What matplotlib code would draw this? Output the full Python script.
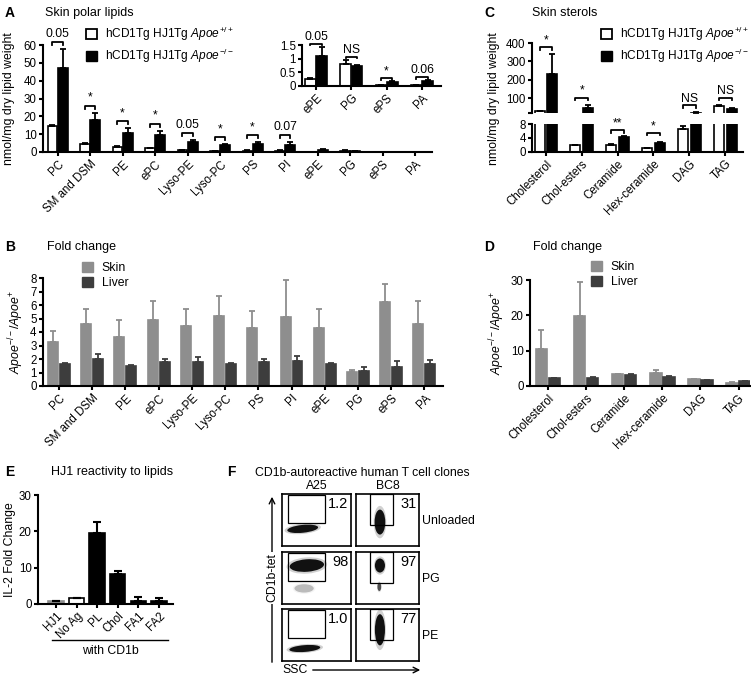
import matplotlib
matplotlib.use('Agg')
import matplotlib.pyplot as plt
from matplotlib.patches import Patch, Ellipse, Rectangle, FancyArrowPatch
import numpy as np

plt.rcParams['font.family'] = ['Liberation Sans', 'DejaVu Sans']
plt.rcParams['mathtext.fontset'] = 'custom'
plt.rcParams['mathtext.rm'] = 'Liberation Sans'
plt.rcParams['mathtext.it'] = 'Liberation Sans:italic'
plt.rcParams['mathtext.bf'] = 'Liberation Sans:bold'
plt.rcParams['font.size'] = 8

# ---------------- DATA ----------------
polar_lipids = ['PC', 'SM and DSM', 'PE', 'ePC', 'Lyso-PE', 'Lyso-PC', 'PS', 'PI', 'ePE', 'PG', 'ePS', 'PA']
polar_wt = [14.5, 4.3, 3.0, 2.0, 1.0, 0.5, 0.8, 0.8, 0.25, 0.8, 0.03, 0.03]
polar_wt_err = [0.5, 0.5, 0.4, 0.4, 0.2, 0.1, 0.1, 0.2, 0.03, 0.15, 0.01, 0.01]
polar_ko = [47, 18, 10.5, 9.5, 5.5, 4.0, 4.5, 4.0, 1.1, 0.75, 0.15, 0.17]
polar_ko_err = [11, 4, 3, 2.5, 1.5, 0.5, 1.0, 1.5, 0.33, 0.03, 0.02, 0.04]
polar_sig = ['0.05', '*', '*', '*', '0.05', '*', '*', '0.07', None, None, None, None]

inset_lipids = ['ePE', 'PG', 'ePS', 'PA']
inset_sig = ['0.05', 'NS', '*', '0.06']

sterols = ['Cholesterol', 'Chol-esters', 'Ceramide', 'Hex-ceramide', 'DAG', 'TAG']
sterol_wt = [30, 1.9, 1.9, 1.0, 6.7, 60]
sterol_wt_err = [3, 0.2, 0.3, 0.1, 0.8, 4]
sterol_ko = [230, 45, 4.3, 2.5, 22, 42]
sterol_ko_err = [110, 20, 0.2, 0.2, 1, 3]
sterol_sig = ['*', '*', '**', '*', 'NS', 'NS']

fold_skin = [3.28, 4.58, 3.65, 4.88, 4.46, 5.17, 4.33, 5.11, 4.33, 1.04, 6.22, 4.57]
fold_skin_err = [0.81, 1.16, 1.23, 1.42, 1.28, 1.5, 1.23, 2.77, 1.35, 0.11, 1.36, 1.7]
fold_liver = [1.6, 2.0, 1.5, 1.75, 1.8, 1.63, 1.78, 1.85, 1.6, 1.11, 1.41, 1.66]
fold_liver_err = [0.08, 0.34, 0.05, 0.27, 0.37, 0.05, 0.25, 0.35, 0.1, 0.3, 0.44, 0.29]

sterol_fold_skin = [10.4, 19.8, 3.3, 3.8, 1.9, 0.9]
sterol_fold_skin_err = [5.5, 9.5, 0.2, 0.7, 0.1, 0.1]
sterol_fold_liver = [2.2, 2.4, 3.2, 2.6, 1.7, 1.3]
sterol_fold_liver_err = [0.1, 0.1, 0.1, 0.1, 0.1, 0.1]

hj1_conditions = ['HJ1', 'No Ag', 'PL', 'Chol', 'FA1', 'FA2']
il2_fold = [0.7, 1.6, 19.5, 8.2, 0.9, 0.9]
il2_err = [0, 0, 3.2, 1.0, 0.9, 0.7]

flow_clones = ['A25', 'BC8']
flow_conditions = ['Unloaded', 'PG', 'PE']
flow_pct = [['1.2', '31'], ['98', '97'], ['1.0', '77']]
# cloud shapes per condition/clone: (x, y, width, height, angle, density) in SSC / CD1b-tet units (0..1)
flow_clouds = [
    [[(0.30, 0.33, 0.45, 0.15, 8, 1.0)], [(0.38, 0.46, 0.17, 0.48, 0, 1.0)]],
    [[(0.36, 0.74, 0.50, 0.24, 6, 1.0), (0.32, 0.30, 0.28, 0.16, 0, 0.25)],
     [(0.38, 0.74, 0.16, 0.27, 0, 1.0), (0.37, 0.33, 0.06, 0.16, 0, 0.7)]],
    [[(0.33, 0.24, 0.45, 0.13, 6, 1.0)], [(0.38, 0.60, 0.16, 0.60, 0, 1.0)]],
]
gate_a25 = (0.09, 0.44, 0.53, 0.54)
gate_bc8 = (0.22, 0.40, 0.36, 0.60)

# ---------------- FIGURE ----------------
W, H = 751, 688
fig = plt.figure(figsize=(W / 100, H / 100), dpi=100)

def rect(l, t, r, b):
    return [l / W, 1 - b / H, (r - l) / W, (b - t) / H]

def fp(x, y):
    return (x / W, 1 - y / H)

SW = 1.5
GREY = '#8e8e8e'
DARK = '#3d3d3d'
TITLE_FS = 9
LAB_FS = 8.8

def style(ax, bottom=True):
    for s in ['top', 'right']:
        ax.spines[s].set_visible(False)
    ax.spines['left'].set_linewidth(SW)
    ax.spines['bottom'].set_linewidth(SW)
    if not bottom:
        ax.spines['bottom'].set_visible(False)
    ax.tick_params(width=SW, length=3, labelsize=8.3, pad=1.5)

def bars(ax, x, vals, errs, face, edge, width, ecol):
    ax.bar(x, vals, width, color=face, edgecolor=edge, linewidth=1.2, zorder=2)
    ax.errorbar(x, vals, yerr=[np.zeros(len(vals)), errs], fmt='none', ecolor=ecol,
                elinewidth=1.3, capsize=2.5, capthick=1.3, zorder=3)

def bracket(ax, x1, x2, y, h, text, tpad):
    ax.plot([x1, x1, x2, x2], [y - h, y, y, y - h], color='black', lw=1.3, clip_on=False, zorder=4)
    ax.text((x1 + x2) / 2, y + tpad, text, ha='center', va='bottom', fontsize=8.8, clip_on=False)

def xlabels(ax, labels, size=8.3):
    ax.set_xticks(np.arange(len(labels)))
    ax.set_xticklabels(labels, rotation=45, ha='right', rotation_mode='anchor', fontsize=size)

wt_label = r'hCD1Tg HJ1Tg $\mathit{Apoe}^{+/+}$'
ko_label = r'hCD1Tg HJ1Tg $\mathit{Apoe}^{-/-}$'
geno_handles = [Patch(facecolor='white', edgecolor='black', linewidth=1.3),
                Patch(facecolor='black', edgecolor='black')]
tissue_handles = [Patch(facecolor=GREY, edgecolor=GREY), Patch(facecolor=DARK, edgecolor=DARK)]
leg_kw = dict(loc='upper left', frameon=False, handlelength=0.9, handleheight=0.9,
              handletextpad=0.7, borderaxespad=0, borderpad=0)

# ---------------- Panel A ----------------
axA = fig.add_axes(rect(43, 45, 432, 152))
x = np.arange(len(polar_lipids))
off, bw = 0.16, 0.30
bars(axA, x - off, polar_wt, polar_wt_err, 'white', 'black', bw, 'black')
bars(axA, x + off, polar_ko, polar_ko_err, 'black', 'black', bw, 'black')
style(axA)
axA.set_ylim(0, 60)
axA.set_yticks(range(0, 61, 10))
axA.set_xlim(-0.45, 11.52)
xlabels(axA, polar_lipids)
axA.set_ylabel('nmol/mg dry lipid weight', fontsize=LAB_FS)
axA.yaxis.set_label_coords(-0.071, 0.5)
for i, s in enumerate(polar_sig):
    if s:
        top = polar_ko[i] + polar_ko_err[i]
        bracket(axA, i - off, i + off, top + 3.8, 1.6, s, 1.2)
fig.text(*fp(5, 13), 'A', fontsize=10, fontweight='bold', va='center')
fig.text(*fp(45, 13), 'Skin polar lipids', fontsize=TITLE_FS, va='center')
fig.legend(geno_handles, [wt_label, ko_label], bbox_to_anchor=fp(86, 25), fontsize=8.6,
           labelspacing=0.3, **leg_kw)

# inset
axI = fig.add_axes(rect(302, 45, 441, 86))
xi = np.arange(len(inset_lipids))
idx = [polar_lipids.index(n) for n in inset_lipids]
bars(axI, xi - off, [polar_wt[i] for i in idx], [polar_wt_err[i] for i in idx], 'white', 'black', bw, 'black')
bars(axI, xi + off, [polar_ko[i] for i in idx], [polar_ko_err[i] for i in idx], 'black', 'black', bw, 'black')
style(axI)
axI.set_ylim(0, 1.5)
axI.set_yticks([0, 0.5, 1, 1.5])
axI.set_yticklabels(['0', '0.5', '1', '1.5'])
axI.set_xlim(-0.4, 3.54)
xlabels(axI, inset_lipids)
for j, i in enumerate(idx):
    top = max(polar_wt[i] + polar_wt_err[i], polar_ko[i] + polar_ko_err[i])
    bracket(axI, j - off, j + off, max(top + 0.12, 0.22), 0.06, inset_sig[j], 0.04)

# ---------------- Panel C ----------------
xc = np.arange(len(sterols))
offc, bwc = 0.18, 0.28
axCu = fig.add_axes(rect(532, 43, 743, 113))
axCl = fig.add_axes(rect(532, 124.3, 743, 151.7))
for ax in (axCu, axCl):
    bars(ax, xc - offc, sterol_wt, sterol_wt_err, 'white', 'black', bwc, 'black')
    bars(ax, xc + offc, sterol_ko, sterol_ko_err, 'black', 'black', bwc, 'black')
    ax.set_xlim(-0.39, 5.5)
style(axCu, bottom=False)
axCu.set_ylim(20, 400)
axCu.set_yticks([20, 100, 200, 300, 400])
axCu.set_yticklabels(['', '100', '200', '300', '400'])
axCu.set_xticks([])
style(axCl)
axCl.set_ylim(0, 8)
axCl.set_yticks([0, 4, 8])
xlabels(axCl, sterols)
for i, s in enumerate(sterol_sig):
    top = max(sterol_wt[i] + sterol_wt_err[i], sterol_ko[i] + sterol_ko_err[i])
    if top > 8:
        bracket(axCu, i - offc, i + offc, top + 38, 14, s, 5)
    else:
        bracket(axCl, i - offc, i + offc, max(top + 1.7, 5.4), 0.6, s, 0.2)
axCl.set_ylabel('nmol/mg dry lipid weight', fontsize=LAB_FS)
axCl.yaxis.set_label_coords(-0.15, 1.95)
fig.text(*fp(484, 13), 'C', fontsize=10, fontweight='bold', va='center')
fig.text(*fp(532, 13), 'Skin sterols', fontsize=TITLE_FS, va='center')
fig.legend(geno_handles, [wt_label, ko_label], bbox_to_anchor=fp(601, 25), fontsize=8.6,
           labelspacing=0.3, **leg_kw)

# ---------------- Panel B ----------------
axB = fig.add_axes(rect(43, 278, 443, 386))
offb, bwb = 0.18, 0.30
bars(axB, x - offb, fold_skin, fold_skin_err, GREY, GREY, bwb, GREY)
bars(axB, x + offb, fold_liver, fold_liver_err, DARK, DARK, bwb, DARK)
style(axB)
axB.set_ylim(0, 8)
axB.set_yticks(range(0, 9))
axB.set_xlim(-0.48, 11.56)
xlabels(axB, polar_lipids)
fold_label = r'$\mathit{Apoe}^{-/-}\mathit{/Apoe}^{+}$'
axB.set_ylabel(fold_label, fontsize=LAB_FS, labelpad=3)
fig.text(*fp(5, 247), 'B', fontsize=10, fontweight='bold', va='center')
fig.text(*fp(47, 247), 'Fold change', fontsize=TITLE_FS, va='center')
fig.legend(tissue_handles, ['Skin', 'Liver'], bbox_to_anchor=fp(82, 262), fontsize=8.8,
           labelspacing=0.2, **leg_kw)

# ---------------- Panel D ----------------
axD = fig.add_axes(rect(530, 280, 750, 386))
offd, bwd = 0.17, 0.30
bars(axD, xc - offd, sterol_fold_skin, sterol_fold_skin_err, GREY, GREY, bwd, GREY)
bars(axD, xc + offd, sterol_fold_liver, sterol_fold_liver_err, DARK, DARK, bwd, DARK)
style(axD)
axD.set_ylim(0, 30)
axD.set_yticks([0, 10, 20, 30])
axD.set_xlim(-0.47, 5.3)
xlabels(axD, sterols)
axD.set_ylabel(fold_label, fontsize=LAB_FS, labelpad=3)
fig.text(*fp(484, 247), 'D', fontsize=10, fontweight='bold', va='center')
fig.text(*fp(533, 247), 'Fold change', fontsize=TITLE_FS, va='center')
fig.legend(tissue_handles, ['Skin', 'Liver'], bbox_to_anchor=fp(591, 261), fontsize=8.8,
           labelspacing=0.2, **leg_kw)

# ---------------- Panel E ----------------
axE = fig.add_axes(rect(38, 495, 173, 604))
xe = np.arange(len(hj1_conditions))
faces = [GREY, 'white', 'black', 'black', 'black', 'black']
edges = [GREY, 'black', 'black', 'black', 'black', 'black']
axE.bar(xe, il2_fold, 0.75, color=faces, edgecolor=edges, linewidth=1.2, zorder=2)
axE.errorbar(xe, il2_fold, yerr=[np.zeros(len(xe)), il2_err], fmt='none', ecolor='black',
             elinewidth=1.5, capsize=3, capthick=1.5, zorder=3)
style(axE)
axE.set_ylim(0, 30)
axE.set_yticks([0, 10, 20, 30])
axE.set_xlim(-0.87, 5.68)
xlabels(axE, hj1_conditions)
axE.set_ylabel('IL-2 Fold Change', fontsize=LAB_FS)
axE.yaxis.set_label_coords(-0.16, 0.5)
fig.text(*fp(5, 472), 'E', fontsize=10, fontweight='bold', va='center')
fig.text(*fp(112, 472), 'HJ1 reactivity to lipids', fontsize=TITLE_FS, va='center', ha='center')
fig.add_artist(plt.Line2D([52 / W, 168 / W], [1 - 640 / H, 1 - 640 / H], color='black', lw=1))
fig.text(*fp(110, 651), 'with CD1b', fontsize=LAB_FS, va='center', ha='center')

# ---------------- Panel F ----------------
fig.text(*fp(227, 472), 'F', fontsize=10, fontweight='bold', va='center')
fig.text(*fp(362, 473), 'CD1b-autoreactive human T cell clones', fontsize=LAB_FS, va='center', ha='center')
col_x = [(282, 351), (356, 419)]
row_y = [(494, 546), (552, 604), (609, 661)]
gates = [gate_a25, gate_bc8]
for c, clone in enumerate(flow_clones):
    fig.text(*fp((col_x[c][0] + col_x[c][1]) / 2, 486), clone, fontsize=LAB_FS, ha='center', va='center')
for r, cond in enumerate(flow_conditions):
    for c in range(len(flow_clones)):
        ax = fig.add_axes(rect(col_x[c][0], row_y[r][0], col_x[c][1], row_y[r][1]))
        ax.set_xlim(0, 1)
        ax.set_ylim(0, 1)
        ax.set_xticks([])
        ax.set_yticks([])
        for s in ax.spines.values():
            s.set_linewidth(1.2)
        for (cx, cy, ew, eh, ang, dens) in flow_clouds[r][c]:
            ax.add_patch(Ellipse((cx, cy), ew * 1.18, eh * 1.3, angle=ang, color='black',
                                 alpha=0.18 * dens, lw=0))
            ax.add_patch(Ellipse((cx, cy), ew, eh, angle=ang, color='#111111', alpha=dens, lw=0))
        g = gates[c]
        ax.add_patch(Rectangle((g[0], g[1]), g[2], g[3], fill=False, lw=0.9, edgecolor='black'))
        ax.text(0.96, 0.95, flow_pct[r][c], ha='right', va='top', fontsize=10.5)
    fig.text(*fp(422, (row_y[r][0] + row_y[r][1]) / 2 + 1), cond, fontsize=LAB_FS, va='center', ha='left')

fig.add_artist(FancyArrowPatch(fp(272, 665), fp(272, 494), transform=fig.transFigure,
                               arrowstyle='->', mutation_scale=10, lw=1))
fig.text(*fp(272, 578), 'CD1b-tet', rotation=90, fontsize=LAB_FS, ha='center', va='center',
         bbox=dict(facecolor='white', edgecolor='none', pad=1))
fig.add_artist(FancyArrowPatch(fp(310, 670), fp(423, 670), transform=fig.transFigure,
                               arrowstyle='->', mutation_scale=10, lw=1))
fig.text(*fp(282, 670), 'SSC', fontsize=LAB_FS, ha='left', va='center')

fig.savefig('out.png', dpi=100)
